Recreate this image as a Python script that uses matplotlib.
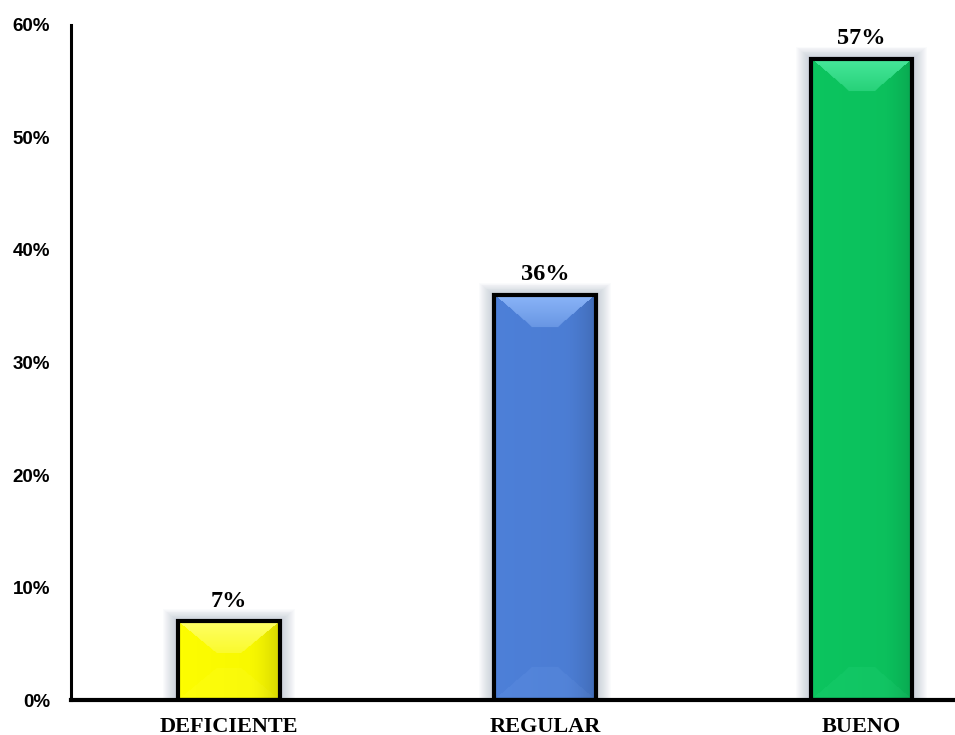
import numpy as np
import matplotlib.pyplot as plt
from matplotlib.patches import Rectangle
from matplotlib.colors import to_rgb

# percentages per category
categorias = ['DEFICIENTE', 'REGULAR', 'BUENO']
porcentajes = [7, 36, 57]
y_ticks = [0, 10, 20, 30, 40, 50, 60]

colores = ['#f6f600', '#4b7cd2', '#0bbf5c']
claros = ['#ffff66', '#8cb6f9', '#48e89c']

fig = plt.figure(figsize=(9.55, 7.35), dpi=100)
ax = fig.add_axes([0.0743, 0.0476, 0.9257, 0.9184])
ax.set_xlim(-0.5, 2.297)
ax.set_ylim(0, 60)

# size of one pixel in data units
px_x = 2.797 / (0.9257 * 955)
px_y = 60 / (0.9184 * 735)
ancho = 0.32


def bevel_face(base, light, w_px, h_px, bx=38, by=33):
    """RGB image of a bar face with an angled bevel."""
    base = np.array(to_rgb(base))
    light = np.array(to_rgb(light))
    u = np.arange(w_px)[None, :] + 0.5
    v = np.arange(h_px)[:, None] + 0.5
    u = np.broadcast_to(u, (h_px, w_px))
    v = np.broadcast_to(v, (h_px, w_px))
    by = min(by, h_px / 2.5)
    d = np.stack([v / by, u / bx, (w_px - u) / bx, (h_px - v) / by])
    face = np.argmin(d, axis=0)
    dmin = np.min(d, axis=0)

    # horizontal shading: a bit lighter left, darker towards the right edge
    x = u / w_px
    shade = 1.0 + 0.03 * (1 - x) - 0.13 * np.clip((x - 0.7) / 0.3, 0, 1) ** 1.5
    img = base[None, None, :] * shade[..., None]

    bevel = dmin < 1
    top = bevel & (face == 0)
    t = np.clip(dmin, 0, 1)[..., None]
    top_col = light * (1 - 0.55 * t) + base * (0.55 * t)
    img = np.where(top[..., None], top_col, img)
    bottom = bevel & (face == 3)
    bot_col = base * 0.9 + light * 0.1
    img = np.where(bottom[..., None], bot_col * shade[..., None], img)
    return np.clip(img, 0, 1)


bars = ax.bar(range(len(categorias)), porcentajes, width=ancho,
              color='none', linewidth=0, zorder=3)

for i, b in enumerate(bars):
    x0 = b.get_x()
    w = b.get_width()
    h = b.get_height()

    # soft glow around the bar
    for k in range(1, 16):
        ax.add_patch(Rectangle((x0 - k * px_x, -1), w + 2 * k * px_x,
                               h + 1 + k * px_y * 0.8, facecolor='#8c9cb0',
                               alpha=0.035, lw=0, zorder=1))

    img = bevel_face(colores[i], claros[i], int(round(w / px_x)),
                     int(round(h / px_y)))
    ax.imshow(img, extent=[x0, x0 + w, 0, h], aspect='auto',
              interpolation='bilinear', zorder=3)

    # outline
    ax.add_patch(Rectangle((x0, 0), w, h, facecolor='none',
                           edgecolor='black', lw=3, zorder=5))

    ax.annotate(f'{porcentajes[i]}%', (x0 + w / 2, h), xytext=(0, 7),
                textcoords='offset points', ha='center', va='bottom',
                family='Liberation Serif', weight='bold', size=17.5)

ax.set_xlim(-0.5, 2.297)
ax.set_ylim(0, 60)
ax.set_yticks(y_ticks)
ax.set_yticklabels([f'{v}%' for v in y_ticks], family='Liberation Sans',
                   weight='bold', size=13.5)
ax.set_xticks(range(len(categorias)))
ax.set_xticklabels(categorias, family='Liberation Serif', weight='bold', size=16)
ax.tick_params(axis='y', length=0, pad=15)
ax.tick_params(axis='x', length=0, pad=12)

for s in ['top', 'right']:
    ax.spines[s].set_visible(False)
ax.spines['left'].set_linewidth(2.2)
ax.spines['bottom'].set_linewidth(3)
ax.spines['left'].set_zorder(6)
ax.spines['bottom'].set_zorder(6)

fig.savefig('out.png', dpi=100)
